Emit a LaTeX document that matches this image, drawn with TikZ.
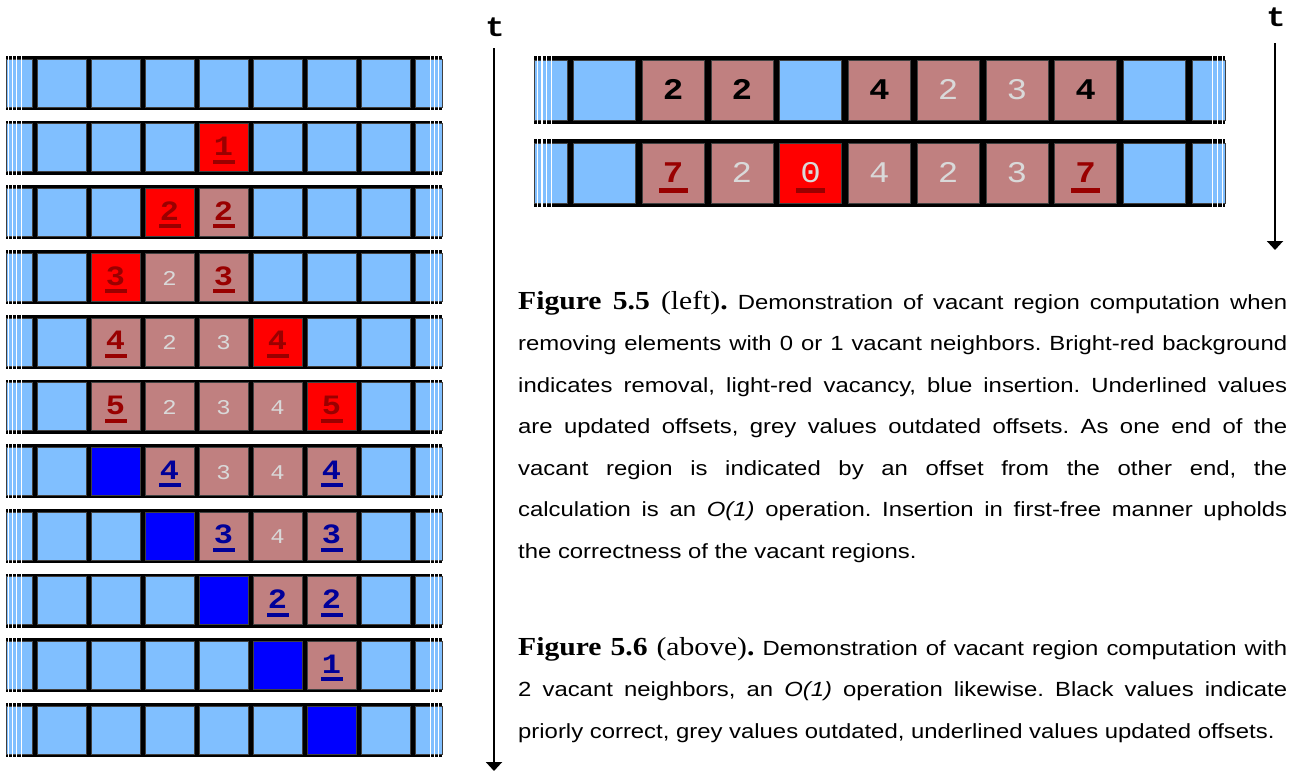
\documentclass[tikz,border=0pt]{standalone}
\usepackage{fontspec}
\setmainfont{Liberation Sans}[FakeStretch=1.165]
\newfontfamily\capserif{Liberation Serif}[FakeStretch=1.14]
\newfontfamily\cellmono{Liberation Mono}[FakeStretch=1.14]
\usetikzlibrary{arrows.meta}

\definecolor{vacblue}{HTML}{80BFFF}
\definecolor{vacpink}{HTML}{C08080}
\definecolor{remred}{HTML}{FF0000}
\definecolor{insblue}{HTML}{0000FF}
\definecolor{offred}{HTML}{990000}
\definecolor{offnavy}{HTML}{000099}
\definecolor{oldgrey}{HTML}{D9D9D9}
\definecolor{celledge}{HTML}{404040}

% one justified caption line, stretched to the full column width
\newlength\capw \setlength\capw{769pt}
\newcommand\jline[1]{\makebox[\capw][s]{#1}}

\tikzset{
  strip/.style={fill=black},
  cellbox/.style={rectangle, inner sep=0pt, outer sep=0pt, draw=celledge, line width=0.5pt},
  cell-b/.style={cellbox, fill=vacblue},
  cell-p/.style={cellbox, fill=vacpink},
  cell-r/.style={cellbox, fill=remred},
  cell-i/.style={cellbox, fill=insblue},
  lsize/.style={minimum width=49pt, minimum height=48pt},
  rsize/.style={minimum width=62pt, minimum height=60pt},
  hatch/.style={draw=white, line width=1.3pt},
  digit/.style={inner sep=0pt, outer sep=0pt, anchor=base},
  bigdig/.style={digit, font=\cellmono\bfseries\fontsize{28}{28}\selectfont},
  smalldig/.style={digit, font=\cellmono\fontsize{21}{21}\selectfont},
  rbigdig/.style={digit, font=\cellmono\bfseries\fontsize{30}{30}\selectfont},
  rplaindig/.style={digit, font=\cellmono\fontsize{30}{30}\selectfont},
  % left strip digits and their underlines
  ld-u/.style={bigdig, text=offred},
  ld-v/.style={bigdig, text=offnavy},
  ld-g/.style={smalldig, text=oldgrey},
  lu-u/.style={fill=offred},
  lu-v/.style={fill=offnavy},
  lu-g/.style={},
  % right strip digits and their underlines
  rd-k/.style={rbigdig, text=black},
  rd-g/.style={rplaindig, text=oldgrey},
  rd-u/.style={rbigdig, text=offred},
  rd-x/.style={rplaindig, text=oldgrey},
  ru-k/.style={},
  ru-g/.style={},
  ru-u/.style={fill=offred},
  ru-x/.style={fill=offred},
  tmark/.style={inner sep=0pt, font=\cellmono\bfseries\fontsize{28}{28}\selectfont},
  tarrow/.style={line width=2pt, -{Triangle[width=16pt,length=9pt]}},
  % anchored at the baseline of the last caption line
  captext/.style={anchor=base west, inner sep=0pt, align=left,
    font=\fontsize{20.5}{41.5}\selectfont\frenchspacing},
}

\begin{document}
\begin{tikzpicture}[x=1pt, y=-1pt]
\useasboundingbox (0,0) rectangle (1293,771);

% ---- left: eleven time steps of the removal / insertion sequence ----
\foreach \r/\kinds in {
  0/{b,b,b,b,b,b,b}, 1/{b,b,b,r,b,b,b}, 2/{b,b,r,p,b,b,b},
  3/{b,r,p,p,b,b,b}, 4/{b,p,p,p,r,b,b}, 5/{b,p,p,p,p,r,b},
  6/{b,i,p,p,p,p,b}, 7/{b,b,i,p,p,p,b}, 8/{b,b,b,i,p,p,b},
  9/{b,b,b,b,i,p,b}, 10/{b,b,b,b,b,i,b}}{
  \pgfmathsetmacro\T{56+64.7*\r}
  \fill[strip] (6,\T) rectangle (442,\T+54);
  \path[cell-b] (6,\T+3) rectangle (32,\T+51);
  \path[cell-b] (415,\T+3) rectangle (442,\T+51);
  \foreach \k [count=\c from 0] in \kinds {
    \node[cell-\k, lsize] (L\r-\c) at (61.5+54*\c, \T+27) {};
  }
  \foreach \hx in {8.7,12.7,16.8,21.3,430.5,434.5,438.5}{
    \draw[hatch] (\hx,\T-1) -- (\hx,\T+55);
  }
}
\foreach \r/\c/\v/\s in {
  1/3/1/u,
  2/2/2/u, 2/3/2/u,
  3/1/3/u, 3/2/2/g, 3/3/3/u,
  4/1/4/u, 4/2/2/g, 4/3/3/g, 4/4/4/u,
  5/1/5/u, 5/2/2/g, 5/3/3/g, 5/4/4/g, 5/5/5/u,
  6/2/4/v, 6/3/3/g, 6/4/4/g, 6/5/4/v,
  7/3/3/v, 7/4/4/g, 7/5/3/v,
  8/4/2/v, 8/5/2/v,
  9/5/1/v}{
  \pgfmathsetmacro\T{56+64.7*\r}
  \pgfmathsetmacro\X{61.5+54*\c}
  \node[ld-\s] (Ld\r-\c) at (\X, \T+35) {\v};
  \path[lu-\s] (\X-11, \T+39) rectangle (\X+11, \T+43);
}

% ---- right: one step with two vacant neighbours ----
\foreach \r/\T/\kinds in {0/56/{b,p,p,b,p,p,p,p,b}, 1/139/{b,p,p,r,p,p,p,p,b}}{
  \fill[strip] (534,\T) rectangle (1225,\T+68);
  \path[cell-b] (534,\T+4) rectangle (566.75,\T+64);
  \path[cell-b] (1192.25,\T+4) rectangle (1225,\T+64);
  \foreach \k [count=\c from 0] in \kinds {
    \node[cell-\k, rsize] (R\r-\c) at (604.375+68.75*\c, \T+34) {};
  }
  \foreach \hx in {537.5,542,546.7,551.7,1212.5,1217.5,1222.5}{
    \draw[hatch] (\hx,\T-1) -- (\hx,\T+69);
  }
}
\foreach \r/\T/\c/\v/\s in {
  0/56/1/2/k, 0/56/2/2/k, 0/56/4/4/k, 0/56/5/2/g, 0/56/6/3/g, 0/56/7/4/k,
  1/139/1/7/u, 1/139/2/2/g, 1/139/3/0/x, 1/139/4/4/g, 1/139/5/2/g,
  1/139/6/3/g, 1/139/7/7/u}{
  \pgfmathsetmacro\X{604.375+68.75*\c}
  \node[rd-\s] (Rd\r-\c) at (\X, \T+43.5) {\v};
  \path[ru-\s] (\X-14.5, \T+48.5) rectangle (\X+14.5, \T+53.5);
}

% ---- time axes ----
\node[tmark] (tL) at (495,27) {t};
\coordinate (tLtop) at (494,48);
\coordinate (tLbot) at (494,771);
\draw[tarrow] (tLtop) -- (tLbot);

\node[tmark] (tR) at (1276,17) {t};
\coordinate (tRtop) at (1275,43);
\coordinate (tRbot) at (1275,250);
\draw[tarrow] (tRtop) -- (tRbot);

% ---- captions ----
\node[captext] (cap55) at (518,558) {%
\jline{{\capserif\fontsize{26}{41.5}\selectfont\textbf{Figure 5.5} (left)\textbf{.}} Demonstration of vacant region computation when}\\
\jline{removing elements with 0 or 1 vacant neighbors. Bright-red background}\\
\jline{indicates removal, light-red vacancy, blue insertion. Underlined values}\\
\jline{are updated offsets, grey values outdated offsets. As one end of the}\\
\jline{vacant region is indicated by an offset from the other end, the}\\
\jline{calculation is an \textit{O(1)} operation. Insertion in first-free manner upholds}\\
the correctness of the vacant regions.};

\node[captext] (cap56) at (518,738) {%
\jline{{\capserif\fontsize{26}{41.5}\selectfont\textbf{Figure 5.6} (above)\textbf{.}} Demonstration of vacant region computation with}\\
\jline{2 vacant neighbors, an \textit{O(1)} operation likewise. Black values indicate}\\
priorly correct, grey values outdated, underlined values updated offsets.};
\end{tikzpicture}
\end{document}
